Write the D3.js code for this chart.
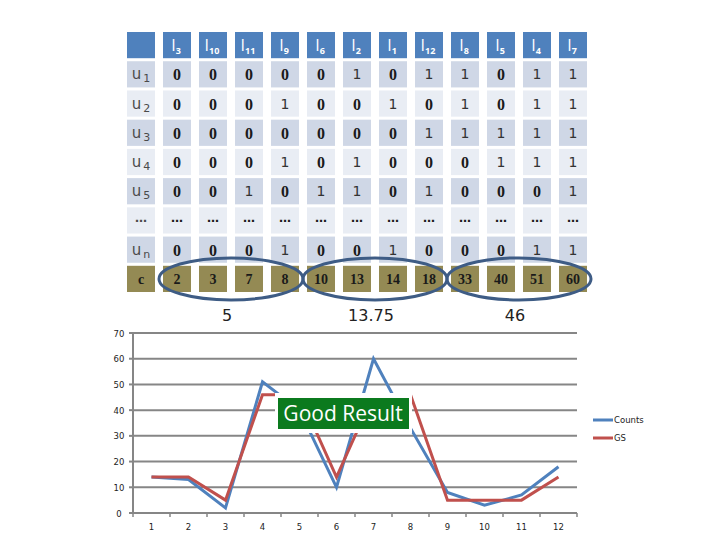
<!DOCTYPE html>
<html><head><meta charset="utf-8">
<script src="https://cdn.jsdelivr.net/npm/d3@7"></script>
<style>body{margin:0;background:#fff}svg{display:block}</style>
</head><body>
<script>
// ---- data ----
const itemLabels = ["3","10","11","9","6","2","1","12","8","5","4","7"];
const userLabels = ["1","2","3","4","5","…","n"];
const matrix = [
  [0,0,0,0,0,1,0,1,1,0,1,1],
  [0,0,0,1,0,0,1,0,1,0,1,1],
  [0,0,0,0,0,0,0,1,1,1,1,1],
  [0,0,0,1,0,1,0,0,0,1,1,1],
  [0,0,1,0,1,1,0,1,0,0,0,1],
  ["…","…","…","…","…","…","…","…","…","…","…","…"],
  [0,0,0,1,0,0,1,0,0,0,1,1]
];
const counts = [2,3,7,8,10,13,14,18,33,40,51,60];
const groups = [{from:0,to:3,label:"5"},{from:4,to:7,label:"13.75"},{from:8,to:11,label:"46"}];

const xCats = ["1","2","3","4","5","6","7","8","9","10","11","12"];
const countsSeries = [14,13,2,51,40,10,60,33,8,3,7,18];
const gsSeries = [14,14,5,46,46,14,46,46,5,5,5,14];
const yTicks = [0,10,20,30,40,50,60,70];

const W=720,H=540;
const svg=d3.select("body").append("svg").attr("width",W).attr("height",H);

// ---- table ----
const colKeys=["label"].concat(itemLabels.map((d,i)=>"c"+i));
const rowKeys=["head"].concat(userLabels.map((d,i)=>"r"+i)).concat(["c"]);
const cx=d3.scaleBand().domain(colKeys).range([127,587]).paddingInner(8/36).paddingOuter(0);
const cy=d3.scaleBand().domain(rowKeys).range([32,292]).paddingInner(3/29).paddingOuter(0);
const bw=cx.bandwidth(), bh=cy.bandwidth();
const dark="#cfd7e6", light="#e9edf4", blue="#4f81bd", olive="#948a54";

// header
const head=svg.append("g");
colKeys.forEach((k,i)=>{
  head.append("rect").attr("x",cx(k)).attr("y",cy("head")).attr("width",bw).attr("height",bh).attr("fill",blue);
  if(i===0) return;
  const t=head.append("text").attr("x",cx(k)+bw/2-1).attr("y",cy("head")+bh/2+6)
    .attr("text-anchor","middle").attr("fill","#fff").attr("font-family","Open Sans, sans-serif").attr("font-size",16);
  t.append("tspan").text("I");
  t.append("tspan").attr("font-size",9).attr("font-weight","bold").attr("dy",3).text(itemLabels[i-1]);
});

// body rows
userLabels.forEach((u,r)=>{
  const key="r"+r, fill=(r%2===0)?dark:light;
  const g=svg.append("g");
  colKeys.forEach((k,i)=>{
    g.append("rect").attr("x",cx(k)).attr("y",cy(key)).attr("width",bw).attr("height",bh).attr("fill",fill);
  });
  const t=g.append("text").attr("x",cx("label")+bw/2).attr("y",cy(key)+bh/2+5)
    .attr("text-anchor","middle").attr("fill","#4a4a4a").attr("font-family","DejaVu Sans, sans-serif").attr("font-size",15);
  if(u==="…"){t.attr("font-size",12).attr("font-weight","bold").attr("y",cy(key)+bh/2+2).text("…");}
  else{t.append("tspan").text("u");t.append("tspan").attr("font-size",11).attr("dx",2).attr("dy",3).text(u);}
  matrix[r].forEach((v,j)=>{
    const k="c"+j;
    const tt=g.append("text").attr("x",cx(k)+bw/2).attr("text-anchor","middle").attr("fill","#1a1a1a");
    if(v==="…"){tt.attr("y",cy(key)+bh/2+2).attr("font-family","DejaVu Sans, sans-serif").attr("font-size",12).attr("font-weight","bold").text("…");}
    else if(v===0){tt.attr("y",cy(key)+bh/2+6).attr("font-family","Liberation Serif, serif").attr("font-weight","bold").attr("font-size",16).text(v);}
    else{tt.attr("y",cy(key)+bh/2+5).attr("font-family","DejaVu Sans, sans-serif").attr("font-size",14).attr("fill","#333").text(v);}
  });
});

// c row
const cg=svg.append("g");
colKeys.forEach((k,i)=>{
  cg.append("rect").attr("x",cx(k)).attr("y",cy("c")).attr("width",bw).attr("height",bh).attr("fill",olive);
  cg.append("text").attr("x",cx(k)+bw/2).attr("y",cy("c")+bh/2+5).attr("text-anchor","middle")
    .attr("fill","#1a1a1a").attr("font-family","Liberation Serif, serif").attr("font-weight","bold")
    .attr("font-size",14).text(i===0?"c":counts[i-1]);
});

// ellipses & averages
groups.forEach(gp=>{
  const x0=cx("c"+gp.from), x1=cx("c"+gp.to)+bw, mx=(x0+x1)/2;
  svg.append("ellipse").attr("cx",mx).attr("cy",cy("c")+bh/2).attr("rx",(x1-x0)/2+4).attr("ry",21)
    .attr("fill","none").attr("stroke","#3e5c85").attr("stroke-width",3);
  svg.append("text").attr("x",mx-4).attr("y",321).attr("text-anchor","middle")
    .attr("font-family","DejaVu Sans, sans-serif").attr("font-size",16).attr("fill","#222").text(gp.label);
});

// ---- chart ----
const x=d3.scaleBand().domain(xCats).range([133,577]);
const y=d3.scaleLinear().domain([0,70]).range([513,333]);
const grid="#868686";
const cgp=svg.append("g");
yTicks.forEach(t=>{
  cgp.append("line").attr("x1",133).attr("x2",577).attr("y1",y(t)).attr("y2",y(t))
    .attr("stroke",grid).attr("stroke-width",2);
  cgp.append("line").attr("x1",129).attr("x2",133).attr("y1",y(t)).attr("y2",y(t)).attr("stroke",grid).attr("stroke-width",2);
  cgp.append("text").attr("x",119).attr("y",y(t)+3.5).attr("text-anchor","middle")
    .attr("font-family","DejaVu Sans, sans-serif").attr("font-size",8.5).attr("fill","#222").text(t);
});
cgp.append("line").attr("x1",133).attr("x2",133).attr("y1",y(70)).attr("y2",y(0)).attr("stroke",grid).attr("stroke-width",2);
const xb=xCats.map(c=>x(c)).concat([577]);
xb.forEach(v=>{cgp.append("line").attr("x1",v).attr("x2",v).attr("y1",y(0)).attr("y2",y(0)+4).attr("stroke",grid).attr("stroke-width",1.5);});
xCats.forEach(c=>{
  cgp.append("text").attr("x",x(c)+x.bandwidth()/2).attr("y",530).attr("text-anchor","middle")
    .attr("font-family","DejaVu Sans, sans-serif").attr("font-size",8.5).attr("fill","#222").text(c);
});
const line=d3.line().x((d,i)=>x(xCats[i])+x.bandwidth()/2).y(d=>y(d));
const cBlue="#4f81bd", cRed="#c0504d";
svg.append("path").datum(countsSeries).attr("d",line).attr("fill","none").attr("stroke",cBlue).attr("stroke-width",3);
svg.append("path").datum(gsSeries).attr("d",line).attr("fill","none").attr("stroke",cRed).attr("stroke-width",3);

// Good Result label
svg.append("rect").attr("x",275).attr("y",393).attr("width",137).attr("height",40).attr("fill","#fff");
svg.append("rect").attr("x",278).attr("y",398).attr("width",131).attr("height",31).attr("fill","#0b7a1e");
svg.append("text").attr("x",343).attr("y",421).attr("text-anchor","middle").attr("fill","#fff")
  .attr("font-family","Open Sans, sans-serif").attr("font-size",21).text("Good Result");

// legend
const leg=[{n:"Counts",c:cBlue,y:420},{n:"GS",c:cRed,y:438}];
leg.forEach(l=>{
  svg.append("line").attr("x1",593).attr("x2",613).attr("y1",l.y).attr("y2",l.y).attr("stroke",l.c).attr("stroke-width",3);
  svg.append("text").attr("x",614).attr("y",l.y+3).attr("font-family","DejaVu Sans, sans-serif").attr("font-size",8.5).attr("fill","#222").text(l.n);
});
</script>
</body></html>
